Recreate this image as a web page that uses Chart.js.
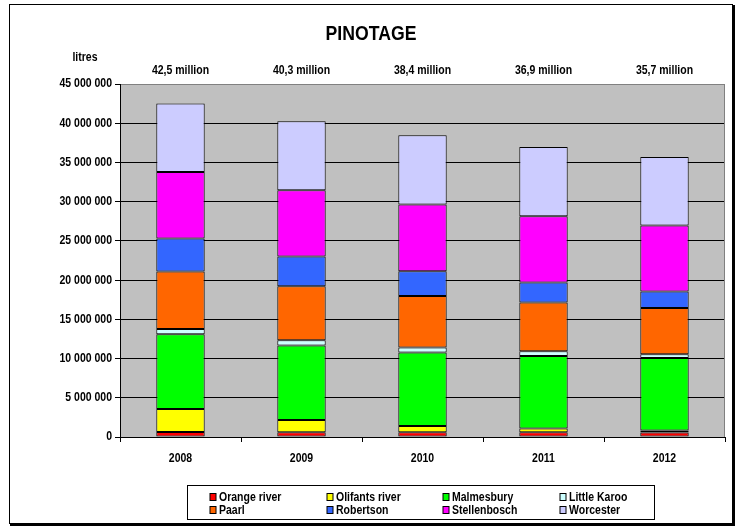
<!DOCTYPE html>
<html>
<head>
<meta charset="utf-8">
<script src="https://cdn.jsdelivr.net/npm/chart.js@4.4.0/dist/chart.umd.min.js"></script>
<style>
  html, body { margin: 0; padding: 0; background: #fff; }
  #wrap { position: relative; width: 740px; height: 526px; }
</style>
</head>
<body>
<div id="wrap"><canvas id="chart"></canvas></div>
<script>
// Дані графіка
const years = ['2008', '2009', '2010', '2011', '2012'];
const totalLabels = ['42,5 million', '40,3 million', '38,4 million', '36,9 million', '35,7 million'];
const yTicks = [0, 5000000, 10000000, 15000000, 20000000, 25000000, 30000000, 35000000, 40000000, 45000000];

const orangeRiver  = [640000, 600000, 600000, 600000, 560000];
const olifantsRiver = [2930000, 1570000, 800000, 470000, 260000];
const malmesbury   = [9520000, 9480000, 9360000, 9260000, 9250000];
const littleKaroo  = [680000, 680000, 640000, 600000, 470000];
const paarl        = [7320000, 6880000, 6580000, 6200000, 5910000];
const robertson    = [4200000, 3790000, 3140000, 2550000, 2090000];
const stellenbosch = [8490000, 8450000, 8510000, 8460000, 8410000];
const worcester    = [8720000, 8800000, 8830000, 8830000, 8750000];

const FONT = "'Liberation Sans', Arial, sans-serif";
const SQUEEZE = 0.84; // у оригіналі вузький шрифт

function formatLitres(v) {
    return String(v).replace(/\B(?=(\d{3})+(?!\d))/g, ' ');
}

// Текст, стиснутий по горизонталі
function drawText(ctx, text, x, y, align) {
    ctx.save();
    ctx.translate(x, y);
    ctx.scale(SQUEEZE, 1);
    ctx.textAlign = align;
    ctx.textBaseline = 'middle';
    ctx.fillText(text, 0, 0);
    ctx.restore();
}

// Фон області графіка, рамка, заголовок, підписи та легенда
const decorPlugin = {
    id: 'decor',
    beforeDraw(chart) {
        const { ctx, chartArea: a } = chart;
        ctx.save();
        ctx.fillStyle = '#fff';
        ctx.fillRect(0, 0, chart.width, chart.height);
        ctx.fillStyle = '#C0C0C0';
        ctx.fillRect(a.left, a.top, a.right - a.left, a.bottom - a.top);
        ctx.restore();
    },
    afterDraw(chart) {
        const { ctx, chartArea: a } = chart;
        const x = chart.scales.x;
        const y = chart.scales.y;
        ctx.save();

        // права межа області графіка
        ctx.strokeStyle = '#808080';
        ctx.lineWidth = 1;
        ctx.beginPath();
        ctx.moveTo(a.right - 0.5, a.top);
        ctx.lineTo(a.right - 0.5, a.bottom);
        ctx.stroke();

        // зовнішня рамка
        ctx.strokeStyle = '#000';
        ctx.lineWidth = 1;
        ctx.strokeRect(9.5, 4.5, 723, 519);
        ctx.lineWidth = 2;
        ctx.beginPath();
        ctx.moveTo(10, 525);
        ctx.lineTo(734, 525);
        ctx.lineTo(734, 5);
        ctx.stroke();

        ctx.fillStyle = '#000';
        ctx.font = 'bold 21px ' + FONT;
        drawText(ctx, 'PINOTAGE', 371, 34, 'center');

        ctx.font = 'bold 12.5px ' + FONT;
        drawText(ctx, 'litres', 85, 58, 'center');

        totalLabels.forEach((t, i) => {
            drawText(ctx, t, x.getPixelForValue(i), 71, 'center');
        });

        // підписи осей
        yTicks.forEach(v => {
            drawText(ctx, formatLitres(v), a.left - 8, y.getPixelForValue(v), 'right');
        });
        years.forEach((yr, i) => {
            drawText(ctx, yr, x.getPixelForValue(i), 459, 'center');
        });

        // легенда
        ctx.strokeStyle = '#000';
        ctx.lineWidth = 1;
        ctx.strokeRect(187.5, 485.5, 467, 34);
        const colX = [210, 327, 443, 560];
        const rowY = [497, 510];
        chart.data.datasets.forEach((ds, i) => {
            const cx = colX[i % 4];
            const cy = rowY[Math.floor(i / 4)];
            ctx.fillStyle = ds.backgroundColor;
            ctx.fillRect(cx, cy - 3.5, 6, 7);
            ctx.strokeRect(cx, cy - 3.5, 6, 7);
            ctx.fillStyle = '#000';
            drawText(ctx, ds.label, cx + 9, cy + 0.5, 'left');
        });
        ctx.restore();
    }
};

document.addEventListener('DOMContentLoaded', () => {
    const ctx = document.getElementById('chart').getContext('2d');

    const series = [
        { label: 'Orange river',   data: orangeRiver,   color: '#FF0000' },
        { label: 'Olifants river', data: olifantsRiver, color: '#FFFF00' },
        { label: 'Malmesbury',     data: malmesbury,    color: '#00FF00' },
        { label: 'Little Karoo',   data: littleKaroo,   color: '#CCFFFF' },
        { label: 'Paarl',          data: paarl,         color: '#FF6600' },
        { label: 'Robertson',      data: robertson,     color: '#3366FF' },
        { label: 'Stellenbosch',   data: stellenbosch,  color: '#FF00FF' },
        { label: 'Worcester',      data: worcester,     color: '#CCCCFF' }
    ];

    new Chart(ctx, {
        type: 'bar',
        data: {
            labels: years,
            datasets: series.map(s => ({
                label: s.label,
                data: s.data,
                backgroundColor: s.color,
                borderColor: '#000',
                borderWidth: 1,
                borderSkipped: false,
                categoryPercentage: 1,
                barPercentage: 0.4
            }))
        },
        options: {
            responsive: true,
            maintainAspectRatio: false,
            animation: false,
            devicePixelRatio: 1,
            layout: { padding: { left: 0, right: 15, top: 84, bottom: 59 } },
            plugins: {
                legend: { display: false },
                title: { display: false },
                tooltip: { enabled: false }
            },
            scales: {
                x: {
                    stacked: true,
                    afterFit(scale) { scale.height = 30; },
                    grid: {
                        offset: true,
                        drawOnChartArea: false,
                        tickLength: 5,
                        tickColor: '#000'
                    },
                    border: { color: '#000', width: 1 },
                    ticks: { color: 'rgba(0,0,0,0)' }
                },
                y: {
                    stacked: true,
                    min: 0,
                    max: 45000000,
                    afterFit(scale) { scale.width = 120; },
                    afterBuildTicks(scale) {
                        scale.ticks = yTicks.map(v => ({ value: v }));
                    },
                    grid: {
                        color: c => (c.tick && c.tick.value === 45000000) ? '#808080' : '#000',
                        lineWidth: 1,
                        tickLength: 5,
                        tickColor: '#000'
                    },
                    border: { color: '#000', width: 1 },
                    ticks: {
                        color: 'rgba(0,0,0,0)',
                        callback: v => formatLitres(v)
                    }
                }
            }
        },
        plugins: [decorPlugin]
    });
});
</script>
</body>
</html>
